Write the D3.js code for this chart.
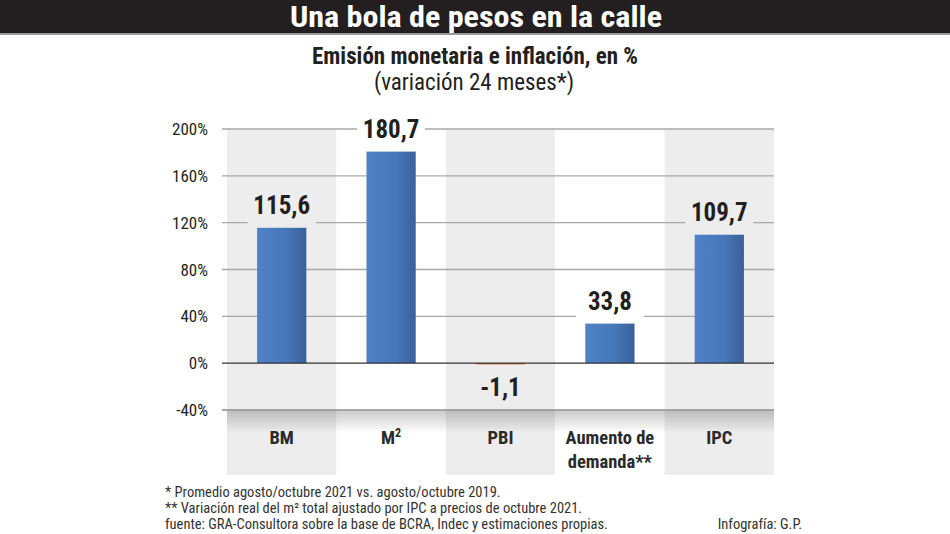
<!DOCTYPE html>
<html><head><meta charset="utf-8">
<script src="https://cdn.jsdelivr.net/npm/d3@7"></script>
<style>
body{margin:0;background:#fff;}
svg{display:block;font-family:"Liberation Sans Narrow","Roboto Condensed","Liberation Sans",sans-serif;}
</style></head>
<body><svg id="c" width="950" height="534"></svg>
<script>
const categories = ["BM", "M2", "PBI", "Aumento de demanda**", "IPC"];
const values = [115.6, 180.7, -1.1, 33.8, 109.7];
const valueLabels = ["115,6", "180,7", "-1,1", "33,8", "109,7"];
const yTicks = [-40, 0, 40, 80, 120, 160, 200];
const footnotes = [
  "* Promedio agosto/octubre 2021 vs. agosto/octubre 2019.",
  "** Variación real del m² total ajustado por IPC a precios de octubre 2021.",
  "fuente: GRA-Consultora sobre la base de BCRA, Indec y estimaciones propias."
];

const svg = d3.select("#c");
const defs = svg.append("defs");
const bg = defs.append("linearGradient").attr("id","barGrad").attr("x1","0").attr("x2","1").attr("y1","0").attr("y2","0");
bg.append("stop").attr("offset","0").attr("stop-color","#4f82c6");
bg.append("stop").attr("offset","0.6").attr("stop-color","#4677ba");
bg.append("stop").attr("offset","1").attr("stop-color","#3a6098");
const sg = defs.append("linearGradient").attr("id","shadow").attr("x1","0").attr("x2","0").attr("y1","0").attr("y2","1");
sg.append("stop").attr("offset","0").attr("stop-color","#000").attr("stop-opacity",0.2);
sg.append("stop").attr("offset","1").attr("stop-color","#000").attr("stop-opacity",0);

// title bar
svg.append("rect").attr("x",0).attr("y",0).attr("width",950).attr("height",33).attr("fill","#231f20");
svg.append("rect").attr("x",0).attr("y",33).attr("width",950).attr("height",2).attr("fill","#9a9a9a");
svg.append("text").attr("x",476).attr("y",27).attr("text-anchor","middle")
  .attr("fill","#fff").attr("font-weight","bold").attr("font-size",30)
  .attr("textLength",372).attr("lengthAdjust","spacingAndGlyphs")
  .text("Una bola de pesos en la calle");
svg.append("text").attr("x",475).attr("y",64).attr("text-anchor","middle")
  .attr("fill","#231f20").attr("font-weight","bold").attr("font-size",23)
  .text("Emisión monetaria e inflación, en %");
svg.append("text").attr("x",474).attr("y",90).attr("text-anchor","middle")
  .attr("fill","#231f20").attr("font-size",23)
  .text("(variación 24 meses*)");

const x = d3.scaleBand().domain(categories).range([227, 774]).padding(0);
const y = d3.scaleLinear().domain([-40, 200]).range([410, 129]);
const bandColor = (i) => i % 2 === 0 ? "#ededed" : "#ffffff";

// bands
svg.append("g").selectAll("rect").data(categories).join("rect")
  .attr("x", d => x(d)).attr("y", y(200)).attr("width", x.bandwidth())
  .attr("height", 475 - y(200)).attr("fill", (d,i) => bandColor(i));

// gridlines
svg.append("g").selectAll("line").data(yTicks.filter(t => t !== 0)).join("line")
  .attr("x1", 222).attr("x2", 774).attr("y1", d => y(d)).attr("y2", d => y(d))
  .attr("stroke", d => d === -40 ? "#8a8a8a" : "#a8a8a8").attr("stroke-width", 1.3);
// shadow below -40 line
svg.append("rect").attr("x",227).attr("y",y(-40)+1).attr("width",547).attr("height",22).attr("fill","url(#shadow)");

// y axis labels
svg.append("g").selectAll("text").data(yTicks).join("text")
  .attr("x", 208).attr("y", d => y(d) + 6).attr("text-anchor","end")
  .attr("font-size", 17).attr("fill","#231f20")
  .text(d => d + "%");

const bw = x.bandwidth() * 0.45;
// label background knockouts
svg.append("g").selectAll("rect").data(values.map((v,i)=>({v,i,c:categories[i]})).filter(d=>d.v>0)).join("rect")
  .attr("x", d => x(d.c) + x.bandwidth()/2 - 34).attr("y", d => y(d.v) - 36)
  .attr("width", 68).attr("height", 36).attr("fill", d => bandColor(d.i));

// bars
svg.append("g").selectAll("rect").data(values.map((v,i)=>({v,i,c:categories[i]}))).join("rect")
  .attr("x", d => x(d.c) + (x.bandwidth()-bw)/2)
  .attr("y", d => y(Math.max(0,d.v)))
  .attr("width", bw)
  .attr("height", d => Math.abs(y(d.v) - y(0)))
  .attr("fill", d => d.v >= 0 ? "url(#barGrad)" : "#e2703a");

// zero line
svg.append("line").attr("x1",222).attr("x2",774).attr("y1",y(0)).attr("y2",y(0))
  .attr("stroke","#333").attr("stroke-width",1.3);

// value labels
svg.append("g").selectAll("text").data(values.map((v,i)=>({v,i,c:categories[i]}))).join("text")
  .attr("x", d => x(d.c) + x.bandwidth()/2)
  .attr("y", d => d.v >= 0 ? y(d.v) - 14 : y(0) + 33)
  .attr("text-anchor","middle").attr("font-weight","bold").attr("font-size",25)
  .attr("fill","#231f20")
  .text((d) => valueLabels[d.i]);

// category labels
const cat = svg.append("g").selectAll("text").data(categories).join("text")
  .attr("x", d => x(d) + x.bandwidth()/2).attr("y", 444)
  .attr("text-anchor","middle").attr("font-size",18.5).attr("font-weight","bold").attr("fill","#2a2a2a");
cat.each(function(d){
  const t = d3.select(this);
  if (d === "M2") {
    t.append("tspan").text("M");
    t.append("tspan").attr("font-size",12).attr("dy",-7).text("2");
  } else if (d.startsWith("Aumento")) {
    t.append("tspan").attr("x", x(d)+x.bandwidth()/2).text("Aumento de");
    t.append("tspan").attr("x", x(d)+x.bandwidth()/2).attr("dy",24).text("demanda**");
  } else t.text(d);
});

// footnotes
svg.append("g").selectAll("text").data(footnotes).join("text")
  .attr("x", 165).attr("y", (d,i) => 497 + i*16)
  .attr("font-size", 14.5).attr("fill","#333")
  .text(d => d);
svg.append("text").attr("x", 802).attr("y", 529).attr("text-anchor","end")
  .attr("font-size",14.5).attr("fill","#333").text("Infografía: G.P.");
</script></body></html>
